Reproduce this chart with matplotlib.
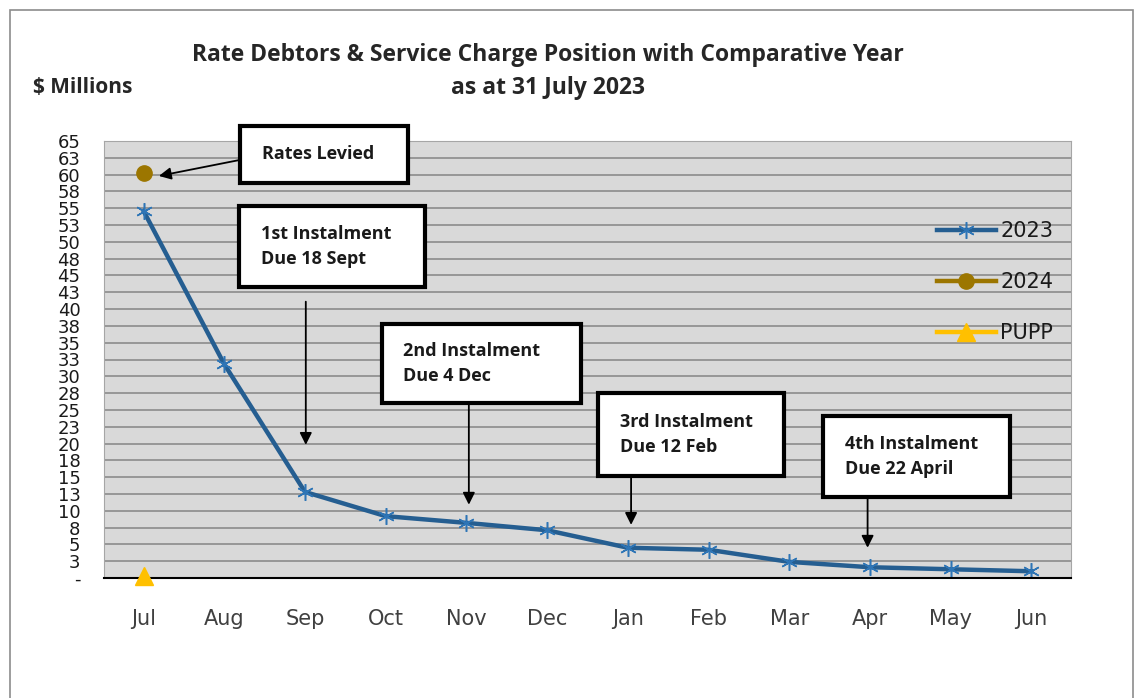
import matplotlib.pyplot as plt
from matplotlib.patches import Rectangle
import numpy as np

# ── data ($ millions) ─────────────────────────────────────────────
months = ['Jul', 'Aug', 'Sep', 'Oct', 'Nov', 'Dec',
          'Jan', 'Feb', 'Mar', 'Apr', 'May', 'Jun']
debt_2023 = [54.6, 31.8, 12.8, 9.2, 8.2, 7.1, 4.5, 4.2, 2.4, 1.6, 1.3, 1.0]
debt_2024 = [60.3]
pupp = [0.3]

# ── annotation boxes: (text, box x0, x1, y0, y1, arrow start, arrow end) ─
notes = [
    ('Rates Levied',                 1.20, 3.28, 58.8, 67.3, (1.20, 62.2), (0.19, 59.8)),
    ('1st Instalment\nDue 18 Sept',  1.18, 3.49, 43.3, 55.4, (2.01, 41.1), (2.01, 19.8)),
    ('2nd Instalment\nDue 4 Dec',    2.95, 5.42, 26.0, 37.8, (4.03, 25.7), (4.03, 10.9)),
    ('3rd Instalment\nDue 12 Feb',   5.63, 7.93, 15.2, 27.5, (6.04, 14.9), (6.04, 7.9)),
    ('4th Instalment\nDue 22 April', 8.42, 10.73, 12.1, 24.1, (8.97, 11.9), (8.97, 4.5)),
]

plt.rcParams['font.family'] = ['Open Sans', 'DejaVu Sans']
tick_font = ['DejaVu Sans']

fig = plt.figure(figsize=(11.36, 6.98), dpi=100)
ax = fig.add_axes([104 / 1136, 120 / 698, 967 / 1136, 437 / 698])

x = np.arange(len(months))
ax.set_facecolor('#D9D9D9')
ax.set_xlim(-0.49, len(months) - 0.51)
ax.set_ylim(0, 65)

yt = np.arange(0, 65.1, 2.5)
ax.set_yticks(yt)
ax.set_yticklabels(['-' if v == 0 else str(int(v + 0.5)) for v in yt], fontsize=13,
                   family=tick_font, color='#1A1A1A')
ax.yaxis.grid(True, color='#8C8C8C', linewidth=1.2)
ax.set_axisbelow(True)
ax.set_xticks(x)
ax.set_xticklabels(months, fontsize=15, family=tick_font, color='#404040')
ax.tick_params(length=0)
ax.tick_params(axis='x', pad=22)
ax.tick_params(axis='y', pad=17)

for s in ['top', 'right', 'left']:
    ax.spines[s].set_color('#A6A6A6')
ax.spines['bottom'].set_color('black')
ax.spines['bottom'].set_linewidth(1.5)

ax.plot(x, debt_2023, color='#255E91', linewidth=3.2, marker=(6, 2, 0),
        markersize=12, markeredgewidth=1.1, markeredgecolor='#2E75B6', label='2023')
ax.plot(x[:len(debt_2024)], debt_2024, color='#9C7600', linewidth=3.2, marker='o',
        markersize=11, label='2024')
ax.plot(x[:len(pupp)], pupp, color='#FFC000', linewidth=3.2, marker='^',
        markersize=13, label='PUPP', clip_on=False, zorder=5)

leg = ax.legend(loc='upper left', bbox_to_anchor=(0.861, 0.817), frameon=False,
                prop={'family': tick_font, 'size': 15}, handlelength=2.85,
                handletextpad=0.2, labelspacing=1.5, borderpad=0, borderaxespad=0)
for t in leg.get_texts():
    t.set_color('#1A1A1A')

for text, x0, x1, y0, y1, a0, a1 in notes:
    ax.add_patch(Rectangle((x0, y0), x1 - x0, y1 - y0, facecolor='white',
                           edgecolor='black', linewidth=3, clip_on=False, zorder=6))
    ax.text(x0 + 0.27, (y0 + y1) / 2, text, ha='left', va='center', fontsize=13,
            fontweight='bold', linespacing=1.5, zorder=7, color='#1A1A1A')
    ax.annotate('', xy=a1, xytext=a0, zorder=7,
                arrowprops=dict(arrowstyle='-|>', color='black', lw=1.3,
                                mutation_scale=18, shrinkA=0, shrinkB=0))

fig.text(0.482, 0.921, 'Rate Debtors & Service Charge Position with Comparative Year',
         ha='center', va='center', fontsize=16.5, fontweight='bold', color='#262626')
fig.text(0.482, 0.874, 'as at 31 July 2023', ha='center', va='center', fontsize=16.5,
         fontweight='bold', color='#262626')
fig.text(33 / 1136, 0.874, '$ Millions', ha='left', va='center', fontsize=15,
         fontweight='bold', color='#262626')

fig.patches.append(Rectangle((10 / 1136, -0.05), 1123 / 1136, 1.05 - 10 / 698,
                             transform=fig.transFigure, fill=False,
                             edgecolor='#8C8C8C', linewidth=1.2))

fig.savefig('out.png', dpi=100)
